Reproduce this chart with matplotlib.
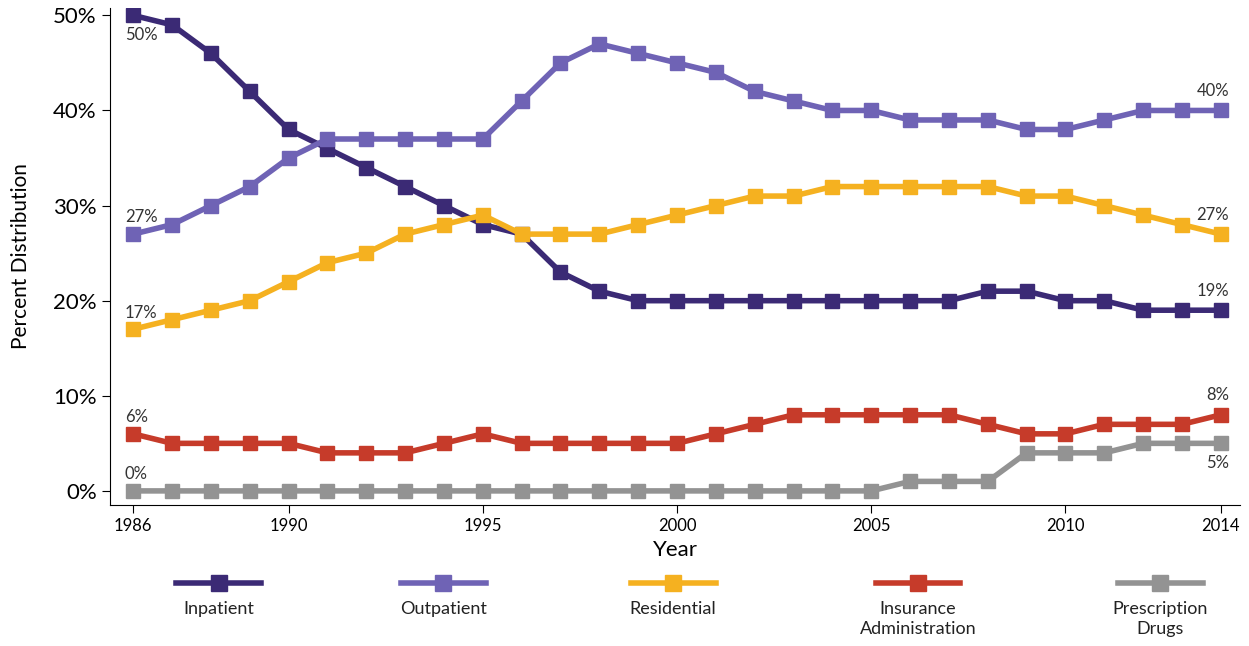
import matplotlib
matplotlib.use("Agg")
import matplotlib.pyplot as plt
from matplotlib.lines import Line2D

plt.rcParams['font.family'] = ['Lato', 'DejaVu Sans']

years = list(range(1986, 2015))
inpatient = [50, 49, 46, 42, 38, 36, 34, 32, 30, 28, 27, 23, 21, 20, 20,
             20, 20, 20, 20, 20, 20, 20, 21, 21, 20, 20, 19, 19, 19]
outpatient = [27, 28, 30, 32, 35, 37, 37, 37, 37, 37, 41, 45, 47, 46, 45,
              44, 42, 41, 40, 40, 39, 39, 39, 38, 38, 39, 40, 40, 40]
residential = [17, 18, 19, 20, 22, 24, 25, 27, 28, 29, 27, 27, 27, 28, 29,
               30, 31, 31, 32, 32, 32, 32, 32, 31, 31, 30, 29, 28, 27]
insurance = [6, 5, 5, 5, 5, 4, 4, 4, 5, 6, 5, 5, 5, 5, 5,
             6, 7, 8, 8, 8, 8, 8, 7, 6, 6, 7, 7, 7, 8]
prescription = [0] * 20 + [1, 1, 1, 4, 4, 4, 5, 5, 5]

series = [
    ("Inpatient", inpatient, "#3b2a75"),
    ("Outpatient", outpatient, "#6f63b5"),
    ("Residential", residential, "#f5b120"),
    ("Insurance\nAdministration", insurance, "#c63b2a"),
    ("Prescription\nDrugs", prescription, "#939393"),
]

fig = plt.figure(figsize=(12.49, 6.46), dpi=100)
ax = fig.add_axes([0.088, 0.218, 0.905, 0.77])

for name, vals, col in series:
    ax.plot(years, vals, color=col, lw=4, marker='s', ms=10, zorder=3)

# end labels
for name, vals, col in series:
    below_first = vals[0] == 50
    below_last = vals[-1] == 5
    ax.annotate(f"{vals[0]}%", (years[0], vals[0]), xytext=(-6, -14 if below_first else 12),
                textcoords='offset points', ha='left', va='center', fontsize=12, color='#333333')
    ax.annotate(f"{vals[-1]}%", (years[-1], vals[-1]), xytext=(6, -14 if below_last else 14),
                textcoords='offset points', ha='right', va='center', fontsize=12, color='#333333')

ax.set_xlim(1985.4, 2014.5)
ax.set_ylim(-1.5, 50.8)
ax.set_xticks([1986, 1990, 1995, 2000, 2005, 2010, 2014])
ax.set_yticks([0, 10, 20, 30, 40, 50])
ax.set_yticklabels([f"{v}%" for v in range(0, 60, 10)], fontsize=16)
ax.tick_params(axis='x', labelsize=12, length=6)
ax.tick_params(axis='y', length=6)
ax.spines['top'].set_visible(False)
ax.spines['right'].set_visible(False)
ax.set_xlabel("Year", fontsize=16, labelpad=4)
ax.set_ylabel("Percent Distribution", fontsize=15, labelpad=16)

# legend below the plot
xs = [0.175, 0.355, 0.539, 0.735, 0.929]
for (name, vals, col), xc in zip(series, xs):
    fig.add_artist(Line2D([xc - 0.034, xc + 0.034], [0.097] * 2, color=col, lw=4,
                          transform=fig.transFigure))
    fig.add_artist(Line2D([xc], [0.097], color=col, marker='s', ms=12, lw=0,
                          transform=fig.transFigure))
    fig.text(xc, 0.07, name, ha='center', va='top', fontsize=13, color='#222222',
             linespacing=1.3)

fig.savefig("out.png", dpi=100)
